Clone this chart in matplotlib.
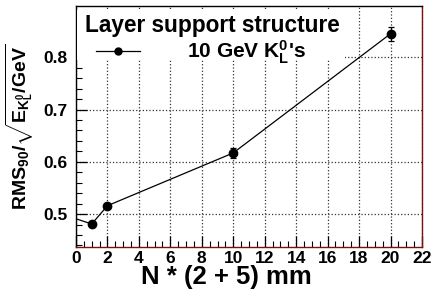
import numpy as np
import matplotlib
matplotlib.use('Agg')
import matplotlib.pyplot as plt
from matplotlib.patches import Rectangle
from matplotlib.ticker import MultipleLocator

plt.rcParams['font.family'] = ['Liberation Sans', 'DejaVu Sans']
plt.rcParams['font.weight'] = 'bold'
plt.rcParams['mathtext.fontset'] = 'custom'
plt.rcParams['mathtext.rm'] = 'Liberation Sans:bold'
plt.rcParams['mathtext.bf'] = 'Liberation Sans:bold'
plt.rcParams['mathtext.it'] = 'Liberation Sans:bold'

# data
n_layers = [0.0, 1, 2, 10, 20]
rms90 = [0.491, 0.481, 0.516, 0.617, 0.845]
rms90_err = [0.0, 0.004, 0.004, 0.010, 0.013]
legend_title = 'Layer support structure'
series_label = "10 GeV K$^{0}_{L}$'s"


def main():
    fig = plt.figure(figsize=(4.33, 2.90), dpi=100)
    ax = fig.add_axes([0.1755, 0.1483, 0.7990, 0.8307])

    x = np.array(n_layers)
    y = np.array(rms90)
    e = np.array(rms90_err)
    shown = x > 0

    # line runs from the frame edge; markers only for real points
    ax.plot(x, y, 'k-', lw=0.9, zorder=3)
    ax.errorbar(x[shown], y[shown], yerr=e[shown], fmt='o', color='k',
                ms=6, capsize=2.5, elinewidth=0.9, capthick=0.9, zorder=4)
    h, = ax.plot([], [], 'k-o', lw=0.9, ms=5)

    ax.set_xlim(0, 22)
    ax.set_ylim(0.437, 0.898)
    ax.xaxis.set_major_locator(MultipleLocator(2))
    ax.xaxis.set_minor_locator(MultipleLocator(0.5))
    ax.yaxis.set_minor_locator(MultipleLocator(0.02))
    ax.set_yticks([0.5, 0.6, 0.7, 0.8])
    ax.set_yticklabels(['0.5', '0.6', '0.7', '0.8'])
    ax.tick_params(which='both', direction='in', labelsize=12.5)
    ax.tick_params(axis='y', pad=6)
    ax.tick_params(axis='x', pad=3)
    ax.tick_params(which='major', length=8, width=0.9)
    ax.tick_params(which='minor', length=4, width=0.8)
    for lab in ax.get_xticklabels() + ax.get_yticklabels():
        lab.set_fontweight('bold')
    ax.grid(True, which='major', ls=':', color='#333333', lw=0.9)

    for s in ('right', 'bottom'):
        ax.spines[s].set_color('#7a1010')
    for s in ax.spines.values():
        s.set_linewidth(1.0)

    ax.set_xlabel('N * (2 + 5) mm', fontsize=18.5, fontweight='bold')
    ax.xaxis.set_label_coords(0.436, -0.075)
    ax.set_ylabel(r'$\mathbf{RMS_{90}/\sqrt{E_{K^{0}_{L}}/GeV}}$', fontsize=14, labelpad=5)

    # white legend box hiding the grid
    ax.add_patch(Rectangle((0.003, 0.776), 0.774, 0.207, transform=ax.transAxes,
                           facecolor='white', edgecolor='none', zorder=5))
    ax.text(0.026, 0.921, legend_title, transform=ax.transAxes, fontsize=16.3,
            fontweight='bold', va='center', ha='left', zorder=6)
    leg = ax.legend([h], [series_label], loc='center left',
                    bbox_to_anchor=(0.058, 0.81), frameon=False,
                    fontsize=15, handlelength=2.1, handletextpad=2.26,
                    borderpad=0.0, borderaxespad=0.0)
    for t in leg.get_texts():
        t.set_fontweight('bold')
    leg.set_zorder(6)

    fig.savefig('out.png', dpi=100)


if __name__ == '__main__':
    main()
